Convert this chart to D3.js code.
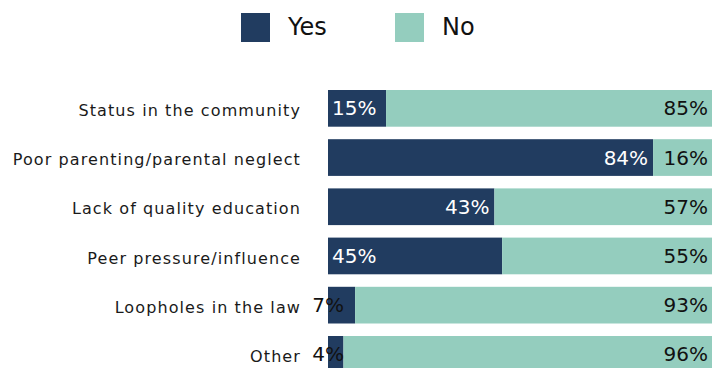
<!DOCTYPE html>
<html>
<head>
<meta charset="utf-8">
<script src="https://cdn.jsdelivr.net/npm/d3@7"></script>
<style>
  html, body { margin: 0; padding: 0; background: #fff; }
  svg { display: block; }
</style>
</head>
<body>
<svg id="chart" width="712" height="368"></svg>
<script>
// Share of respondents answering Yes / No for each factor
const categories = [
  "Status in the community",
  "Poor parenting/parental neglect",
  "Lack of quality education",
  "Peer pressure/influence",
  "Loopholes in the law",
  "Other"
];
const yesValues = [15, 84, 43, 45, 7, 4];
const noValues = [85, 16, 57, 55, 93, 96];
// Where each Yes label sits: inside at the bar start, inside at the bar end, or just outside
const yesLabelPlacement = ["start", "end", "end", "start", "outside", "outside"];
const seriesNames = ["Yes", "No"];

const colors = { Yes: "#213c60", No: "#94cdbe" };
const W = 712, H = 368;
const svg = d3.select("#chart");

const x = d3.scaleLinear().domain([0, 100]).range([328, 715]);
const y = d3.scaleBand()
  .domain(categories)
  .range([83.75, 83.75 + 6 * 49.2])
  .paddingInner(0.254)
  .paddingOuter(0.127);

const rows = categories.map((c, i) => ({ cat: c, yes: yesValues[i], no: noValues[i], place: yesLabelPlacement[i] }));

const g = svg.append("g");

// Yes segments
g.selectAll("rect.yes").data(rows).join("rect")
  .attr("class", "yes")
  .attr("x", x(0))
  .attr("y", d => y(d.cat))
  .attr("width", d => x(d.yes) - x(0))
  .attr("height", y.bandwidth())
  .attr("fill", colors.Yes);

// No segments, stacked after Yes
g.selectAll("rect.no").data(rows).join("rect")
  .attr("class", "no")
  .attr("x", d => x(d.yes))
  .attr("y", d => y(d.cat))
  .attr("width", d => x(d.yes + d.no) - x(d.yes))
  .attr("height", y.bandwidth())
  .attr("fill", colors.No);

const labelFont = "'DejaVu Sans', sans-serif";

// Category labels
g.selectAll("text.cat").data(rows).join("text")
  .attr("class", "cat")
  .attr("x", 301)
  .attr("y", d => y(d.cat) + y.bandwidth() / 2 + 2)
  .attr("dy", "0.35em")
  .attr("text-anchor", "end")
  .attr("font-family", labelFont)
  .attr("font-size", 16)
  .attr("letter-spacing", 1.1)
  .attr("fill", "#1a1a1a")
  .text(d => d.cat);

// Yes value labels
g.selectAll("text.yesv").data(rows).join("text")
  .attr("class", "yesv")
  .attr("x", d => d.place === "start" ? x(0) + 4 : d.place === "end" ? x(d.yes) - 5 : x(0) + 16)
  .attr("y", d => y(d.cat) + y.bandwidth() / 2)
  .attr("dy", "0.35em")
  .attr("text-anchor", d => d.place === "start" ? "start" : "end")
  .attr("font-family", labelFont)
  .attr("font-size", 20)
  .attr("fill", d => d.place === "outside" ? "#111" : "#fff")
  .text(d => d.yes + "%");

// No value labels
g.selectAll("text.nov").data(rows).join("text")
  .attr("class", "nov")
  .attr("x", W - 4)
  .attr("y", d => y(d.cat) + y.bandwidth() / 2)
  .attr("dy", "0.35em")
  .attr("text-anchor", "end")
  .attr("font-family", labelFont)
  .attr("font-size", 20)
  .attr("fill", "#111")
  .text(d => d.no + "%");

// Legend
const legendX = [241, 395];
const legend = svg.append("g");
seriesNames.forEach((name, i) => {
  legend.append("rect")
    .attr("x", legendX[i]).attr("y", 13)
    .attr("width", 29).attr("height", 29)
    .attr("fill", colors[name]);
  legend.append("text")
    .attr("x", legendX[i] + 47).attr("y", 35)
    .attr("font-family", labelFont)
    .attr("font-size", 24)
    .attr("fill", "#111")
    .text(name);
});
</script>
</body>
</html>
